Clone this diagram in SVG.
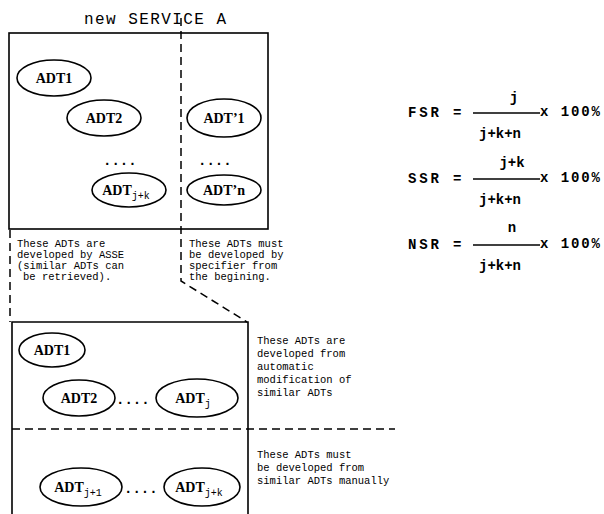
<svg xmlns="http://www.w3.org/2000/svg" width="604" height="514" viewBox="0 0 604 514">
<style>
.bx{fill:none;stroke:#000;stroke-width:1.6}
.dl{fill:none;stroke:#000;stroke-width:1.5;stroke-dasharray:8 5}
.el{fill:#fff;stroke:#000;stroke-width:1.6}
.lb{font-family:"Liberation Serif",serif;font-size:14px;font-weight:bold;text-anchor:middle}
.sb{font-family:"Liberation Mono",monospace;font-size:10px;font-weight:normal}
.tx{font-family:"Liberation Mono",monospace;font-size:10.5px}
.ti{font-family:"Liberation Mono",monospace;font-size:16px}
.fm{font-family:"Liberation Mono",monospace;font-size:14px;font-weight:bold}
.dt{font-family:"Liberation Mono",monospace;font-size:14px;font-weight:bold}
.fl{stroke:#000;stroke-width:1.4}
</style>
<rect width="604" height="514" fill="#fff"/>
<text class="ti" x="84" y="24" textLength="142">new SERVICE A</text>
<g id="service-box"><rect class="bx" x="9" y="33" width="259" height="196"/></g>
<g id="lower-box"><path class="bx" d="M12 514V322H248V514"/></g>
<g id="connectors">
<polyline class="dl" points="181,18 181,281 247,322"/>
<line class="dl" x1="10" y1="230" x2="10" y2="322"/>
<line class="dl" x1="12" y1="429" x2="395" y2="429"/>
</g>
<g id="adt1"><ellipse class="el" cx="54" cy="78" rx="37" ry="18"/><text class="lb" x="54" y="83">ADT1</text></g>
<g id="adt2"><ellipse class="el" cx="104" cy="118" rx="37" ry="18"/><text class="lb" x="104" y="123">ADT2</text></g>
<text class="dt" x="103" y="165">....</text>
<g id="adtjk"><ellipse class="el" cx="129" cy="190" rx="37" ry="17"/><text class="lb" x="126" y="195">ADT<tspan class="sb" dy="4">j+k</tspan></text></g>
<g id="adtp1"><ellipse class="el" cx="224" cy="118" rx="37" ry="19"/><text class="lb" x="224" y="123">ADT’1</text></g>
<text class="dt" x="198" y="165">....</text>
<g id="adtpn"><ellipse class="el" cx="224" cy="190" rx="37" ry="15"/><text class="lb" x="224" y="195">ADT’n</text></g>
<text class="tx" x="17" y="247">These ADTs are</text>
<text class="tx" x="17" y="258">developed by ASSE</text>
<text class="tx" x="17" y="269">(similar ADTs can</text>
<text class="tx" x="23" y="280">be retrieved).</text>
<text class="tx" x="189" y="247">These ADTs must</text>
<text class="tx" x="189" y="258">be developed by</text>
<text class="tx" x="189" y="269">specifier from</text>
<text class="tx" x="189" y="280">the begining.</text>
<g id="b-adt1"><ellipse class="el" cx="52" cy="350" rx="33" ry="17"/><text class="lb" x="52" y="355">ADT1</text></g>
<g id="b-adt2"><ellipse class="el" cx="79" cy="398" rx="36" ry="18"/><text class="lb" x="79" y="403">ADT2</text></g>
<text class="dt" x="116" y="404">....</text>
<g id="b-adtj"><ellipse class="el" cx="197" cy="398" rx="41" ry="19"/><text class="lb" x="193" y="403">ADT<tspan class="sb" dy="4">j</tspan></text></g>
<g id="b-adtj1"><ellipse class="el" cx="81" cy="487" rx="41" ry="19"/><text class="lb" x="78" y="492">ADT<tspan class="sb" dy="4">j+1</tspan></text></g>
<text class="dt" x="124" y="493">....</text>
<g id="b-adtjk"><ellipse class="el" cx="202" cy="487" rx="38" ry="19"/><text class="lb" x="199" y="492">ADT<tspan class="sb" dy="4">j+k</tspan></text></g>
<text class="tx" x="257" y="344">These ADTs are</text>
<text class="tx" x="257" y="357">developed from</text>
<text class="tx" x="257" y="370">automatic</text>
<text class="tx" x="257" y="383">modification of</text>
<text class="tx" x="257" y="396">similar ADTs</text>
<text class="tx" x="257" y="458">These ADTs must</text>
<text class="tx" x="257" y="471">be developed from</text>
<text class="tx" x="257" y="484">similar ADTs manually</text>
<g id="fsr">
<text class="fm" x="408" y="117" textLength="31">FSR</text><text class="fm" x="453" y="117">=</text>
<line class="fl" x1="473" y1="113" x2="540" y2="113"/>
<text class="fm" x="514" y="102" text-anchor="middle">j</text>
<text class="fm" x="500" y="138" text-anchor="middle">j+k+n</text>
<text class="fm" x="540" y="116" textLength="60">x 100%</text>
</g>
<g id="ssr">
<text class="fm" x="408" y="183" textLength="31">SSR</text><text class="fm" x="453" y="183">=</text>
<line class="fl" x1="473" y1="179" x2="540" y2="179"/>
<text class="fm" x="512" y="167" text-anchor="middle">j+k</text>
<text class="fm" x="500" y="204" text-anchor="middle">j+k+n</text>
<text class="fm" x="540" y="182" textLength="60">x 100%</text>
</g>
<g id="nsr">
<text class="fm" x="408" y="249" textLength="31">NSR</text><text class="fm" x="453" y="249">=</text>
<line class="fl" x1="473" y1="245" x2="540" y2="245"/>
<text class="fm" x="512" y="232" text-anchor="middle">n</text>
<text class="fm" x="500" y="270" text-anchor="middle">j+k+n</text>
<text class="fm" x="540" y="248" textLength="60">x 100%</text>
</g>
</svg>
